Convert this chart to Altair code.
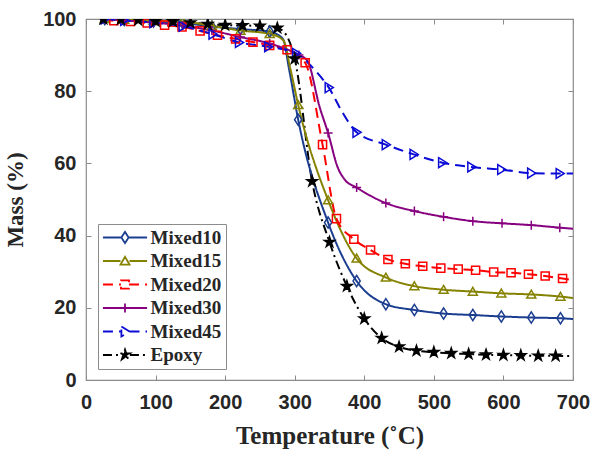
import altair as alt
import pandas as pd

# ---- series definitions -------------------------------------------------
series_names = ["Mixed10", "Mixed15", "Mixed20", "Mixed30", "Mixed45", "Epoxy"]
series_colors = ["#1b3d8f", "#858200", "#ff0000", "#86007f", "#0b0bd6", "#000000"]
series_dashes = [[1, 0], [1, 0], [10, 6], [1, 0], [10, 6], [9, 4, 2, 4]]
marker_fills = ["transparent", "transparent", "transparent", "transparent", "transparent", "#000000"]

# marker outlines (unit paths, scaled by the symbol size)
diamond = "M0,-1.25L0.8,0L0,1.25L-0.8,0Z"
tri_up = "M0,-0.95L1,0.8L-1,0.8Z"
square = "M-0.9,-0.9H0.9V0.9H-0.9Z"
plus = "M-1,0H1M0,-1V1"
tri_right = "M-0.8,-1.1L1,0L-0.8,1.1Z"
star = ("M0,-1.2L0.269,-0.371L1.141,-0.371L0.436,0.142L0.706,0.971L0,0.458"
        "L-0.706,0.971L-0.436,0.142L-1.141,-0.371L-0.269,-0.371Z")
marker_paths = [diamond, tri_up, square, plus, tri_right, star]

# legend symbols: a short line with the marker in the middle
legend_paths = [
    "M-4.9,0H-0.8M0.8,0H4.9" + diamond,
    "M-4.9,0H-1M1,0H4.9" + tri_up,
    "M-4.9,0H-0.9M0.9,0H4.9" + square,
    "M-4.9,0H4.9M0,-1V1",
    "M-4.9,0H-0.8M1,0H4.9" + tri_right,
    "M-4.9,0H-1.1M1.1,0H4.9" + star,
]

# ---- measured data: marker points ----------------------------------------
mixed10_t = [27, 55, 97, 139, 181, 222, 264, 305, 348, 389, 431, 472, 514, 556, 597, 640, 682]
mixed10_m = [100, 99.7, 99.3, 98.9, 97.9, 97.2, 96.5, 72.1, 43.6, 27.4, 21.0, 19.4, 18.4, 18.0, 17.6, 17.3, 17.1]

mixed15_t = [27, 55, 97, 139, 181, 222, 264, 305, 348, 389, 431, 472, 514, 556, 597, 640, 682]
mixed15_m = [100, 99.8, 99.5, 99.3, 98.1, 96.8, 95.9, 76.2, 49.8, 33.7, 28.4, 26.0, 25.0, 24.5, 24.0, 23.7, 23.1]

mixed20_t = [40, 64, 88, 113, 138, 164, 189, 215, 240, 264, 289, 315, 340, 360, 385, 409, 434,
             459, 484, 510, 535, 560, 586, 611, 636, 660, 685]
mixed20_m = [99.5, 99.3, 98.9, 98.3, 97.8, 96.7, 95.5, 94.5, 93.6, 92.7, 91.5, 87.9, 65.2, 44.7, 39.0,
             36.0, 33.4, 32.2, 31.5, 31.0, 30.7, 30.4, 29.9, 29.7, 29.3, 28.8, 28.1]

mixed30_t = [27, 55, 97, 139, 181, 222, 264, 306, 348, 389, 431, 472, 514, 556, 598, 640, 681]
mixed30_m = [100, 99.6, 99.0, 98.2, 96.8, 95.0, 93.2, 90.0, 68.4, 53.3, 49.0, 46.8, 45.2, 44.0, 43.4, 42.9, 42.2]

mixed45_t = [27, 55, 97, 139, 182, 220, 262, 302, 349, 389, 431, 471, 512, 554, 597, 640, 681]
mixed45_m = [100, 99.6, 99.0, 98.0, 95.8, 93.5, 92.3, 90.5, 81.0, 68.6, 65.2, 62.5, 60.2, 59.0, 58.3, 57.3, 57.2]

epoxy_t = [25, 50, 75, 100, 125, 150, 175, 200, 225, 250, 275, 300, 325, 350, 375, 400, 425, 450,
           475, 500, 525, 550, 575, 600, 625, 650, 675]
epoxy_m = [100, 99.9, 99.7, 99.4, 99.3, 99.0, 98.6, 98.3, 98.2, 98.1, 97.5, 89.0, 55.0, 38.2, 26.0,
           17.0, 11.6, 9.2, 8.1, 7.7, 7.4, 7.2, 7.0, 6.9, 6.8, 6.7, 6.7]

# ---- measured data: extra points on the curves (no marker) ---------------
mixed10_xt = [283, 292, 700]
mixed10_xm = [94.5, 86.0, 16.9]
mixed15_xt = [284, 294, 700]
mixed15_xm = [94.0, 86.0, 22.7]
mixed20_xt = [25, 700]
mixed20_xm = [100, 27.7]
mixed30_xt = [318, 336, 362, 372, 700]
mixed30_xm = [88.5, 75.5, 58.8, 55.5, 41.9]
mixed45_xt = [331, 369, 700]
mixed45_xm = [85.4, 74.0, 57.2]
epoxy_xt = [288, 700]
epoxy_xm = [95.5, 6.6]

x_ticks = [0, 100, 200, 300, 400, 500, 600, 700]
y_ticks = [0, 20, 40, 60, 80, 100]

marker_sets = [(mixed10_t, mixed10_m), (mixed15_t, mixed15_m), (mixed20_t, mixed20_m),
               (mixed30_t, mixed30_m), (mixed45_t, mixed45_m), (epoxy_t, epoxy_m)]
extra_sets = [(mixed10_xt, mixed10_xm), (mixed15_xt, mixed15_xm), (mixed20_xt, mixed20_xm),
              (mixed30_xt, mixed30_xm), (mixed45_xt, mixed45_xm), (epoxy_xt, epoxy_xm)]

point_rows, line_rows = [], []
for name, (ts, ms), (xts, xms) in zip(series_names, marker_sets, extra_sets):
    for t, m in zip(ts, ms):
        point_rows.append({"series": name, "T": t, "M": m})
        line_rows.append({"series": name, "T": t, "M": m})
    for t, m in zip(xts, xms):
        line_rows.append({"series": name, "T": t, "M": m})
point_df = pd.DataFrame(point_rows)
line_df = pd.DataFrame(line_rows).sort_values(["series", "T"])
legend_df = pd.DataFrame({"series": series_names})

# ---- styling ----------------------------------------------------------------
ink = "#262626"
frame = "#8c8c8c"
sans = "Liberation Sans"
serif = "Liberation Serif"

x_scale = alt.Scale(domain=[0, 700], nice=False, zero=False)
y_scale = alt.Scale(domain=[0, 100], nice=False, zero=False)
color_scale = alt.Scale(domain=series_names, range=series_colors)
dash_scale = alt.Scale(domain=series_names, range=series_dashes)
shape_scale = alt.Scale(domain=series_names, range=marker_paths)
legend_shape_scale = alt.Scale(domain=series_names, range=legend_paths)
fill_scale = alt.Scale(domain=series_names, range=marker_fills)

x_bottom = alt.Axis(orient="bottom", values=x_ticks, format="d", tickSize=5, offset=-5,
                    domain=False, grid=False, tickColor=frame, tickWidth=1,
                    labelFlush=False, labelOverlap=False,
                    labelFont=sans, labelFontWeight="bold", labelFontSize=20, labelColor=ink,
                    labelPadding=12,
                    title="Temperature (˚C)", titleFont=serif, titleFontWeight="bold",
                    titleFontSize=25, titleColor=ink, titlePadding=11)
y_left = alt.Axis(orient="left", values=y_ticks, format="d", tickSize=5, offset=-5,
                  domain=False, grid=False, tickColor=frame, tickWidth=1,
                  labelFlush=False, labelOverlap=False,
                  labelFont=sans, labelFontWeight="bold", labelFontSize=20, labelColor=ink,
                  labelPadding=10,
                  title="Mass (%)", titleFont=serif, titleFontWeight="bold",
                  titleFontSize=23, titleColor=ink, titlePadding=15)
x_top = alt.Axis(orient="top", values=x_ticks, tickSize=5, offset=-5, domain=False, grid=False,
                 tickColor=frame, tickWidth=1, labels=False, title=None)
y_right = alt.Axis(orient="right", values=y_ticks, tickSize=5, offset=-5, domain=False, grid=False,
                   tickColor=frame, tickWidth=1, labels=False, title=None)

# a blank title on the right side gives the frame some room after the labels
legend_spec = alt.Legend(
    title="\u00a0", titleOrient="right", titleFontSize=9, titlePadding=1,
    orient="none", legendX=12, legendY=205, padding=4, rowPadding=3.5,
    labelFont=serif, labelFontWeight="bold", labelFontSize=19, labelColor=ink,
    symbolSize=81, symbolStrokeWidth=1.8, symbolOffset=13.5, labelOffset=16,
    strokeColor=frame, fillColor="white",
)

# ---- layers -------------------------------------------------------------------
lines = alt.Chart(line_df).mark_line(interpolate="monotone", strokeWidth=2, clip=True).encode(
    x=alt.X("T:Q", scale=x_scale, axis=x_bottom),
    y=alt.Y("M:Q", scale=y_scale, axis=y_left),
    color=alt.Color("series:N", scale=color_scale, legend=None),
    strokeDash=alt.StrokeDash("series:N", scale=dash_scale, legend=None),
)

markers = alt.Chart(point_df).mark_point(filled=False, size=81, strokeWidth=1.5, opacity=1,
                                         clip=True).encode(
    x=alt.X("T:Q", scale=x_scale, axis=x_top),
    y=alt.Y("M:Q", scale=y_scale, axis=y_right),
    color=alt.Color("series:N", scale=color_scale, legend=None),
    shape=alt.Shape("series:N", scale=shape_scale, legend=None),
    fill=alt.Fill("series:N", scale=fill_scale, legend=None),
)

# legend-only layer (its symbols sit outside the clipped plot area)
legend_layer = alt.Chart(legend_df).mark_point(filled=False, size=81, strokeWidth=1.8, opacity=1,
                                               clip=True).encode(
    x=alt.value(-100),
    y=alt.value(-100),
    color=alt.Color("series:N", scale=color_scale, legend=legend_spec),
    shape=alt.Shape("series:N", scale=legend_shape_scale, legend=legend_spec),
    strokeDash=alt.StrokeDash("series:N", scale=dash_scale, legend=legend_spec),
    fill=alt.Fill("series:N", scale=fill_scale, legend=legend_spec),
)

chart = (
    alt.layer(lines, markers, legend_layer)
    .resolve_scale(color="independent", shape="independent", strokeDash="independent",
                   fill="independent")
    .resolve_axis(x="independent", y="independent")
    .properties(width=487, height=361,
                padding={"left": 86, "top": 19, "right": 25, "bottom": 76},
                autosize=alt.AutoSizeParams(type="none"),
                background="white")
    .configure_view(stroke=frame, strokeWidth=1.2)
)

chart.save("out.html", embed_options={"renderer": "svg", "actions": False})
